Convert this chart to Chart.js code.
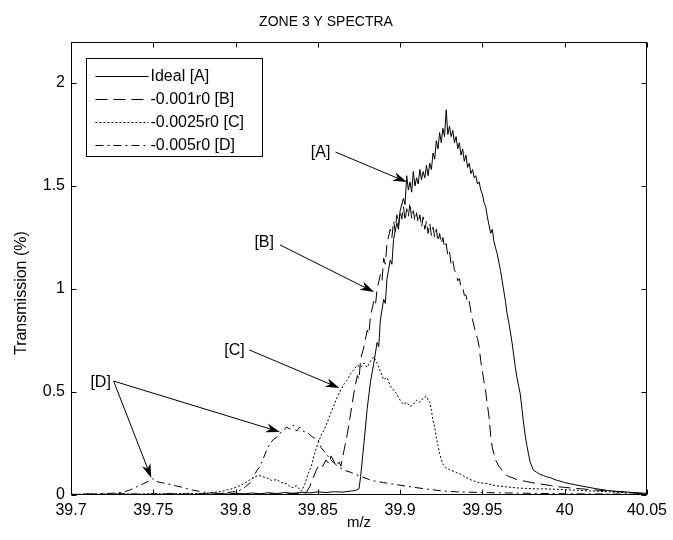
<!DOCTYPE html>
<html lang="en">
<head>
<meta charset="UTF-8">
<title>Zone 3 Y Spectra</title>
<script src="https://cdn.jsdelivr.net/npm/chart.js"></script>
<style>
    body { margin: 0; background: #fff; }
    .wrap { width: 673px; height: 540px; position: relative; }
</style>
</head>
<body>
<div class="wrap"><canvas id="spectra"></canvas></div>
<script>
// axis ticks
const xTicks = [39.7, 39.75, 39.8, 39.85, 39.9, 39.95, 40, 40.05];
const yTicks = [0, 0.5, 1, 1.5, 2];
const seriesLabels = ['Ideal [A]', '-0.001r0 [B]', '-0.0025r0 [C]', '-0.005r0 [D]'];

// [m/z, transmission %]
const idealA = [
    [39.700,0.004],[39.705,0.000],[39.710,0.006],[39.715,0.001],[39.720,0.005],[39.725,0.000],
    [39.730,0.007],[39.735,0.002],[39.740,0.005],[39.745,0.001],[39.750,0.006],[39.755,0.002],
    [39.760,0.008],[39.765,0.003],[39.770,0.006],[39.775,0.002],[39.780,0.007],[39.785,0.003],
    [39.790,0.008],[39.795,0.004],[39.800,0.009],[39.805,0.005],[39.810,0.010],[39.815,0.006],
    [39.820,0.011],[39.825,0.007],[39.830,0.012],[39.835,0.008],[39.840,0.013],[39.845,0.010],
    [39.850,0.015],[39.855,0.012],[39.860,0.016],[39.865,0.014],[39.870,0.019],[39.873,0.022],
    [39.875,0.030],[39.876,0.09],[39.878,0.25],[39.880,0.42],[39.882,0.55],[39.884,0.64],
    [39.886,0.74],[39.887,0.72],[39.888,0.85],[39.890,0.95],[39.891,0.93],[39.892,1.05],
    [39.894,1.14],[39.895,1.12],[39.896,1.24],[39.898,1.32],[39.899,1.29],[39.900,1.38],
    [39.902,1.44],[39.903,1.41],[39.904,1.55],[39.905,1.48],[39.906,1.52],[39.907,1.47],
    [39.908,1.57],[39.909,1.50],[39.910,1.54],[39.911,1.51],[39.912,1.58],[39.913,1.53],
    [39.914,1.57],[39.915,1.54],[39.916,1.60],[39.917,1.55],[39.918,1.61],[39.919,1.58],
    [39.920,1.66],[39.921,1.63],[39.922,1.72],[39.923,1.68],[39.924,1.76],[39.925,1.71],
    [39.926,1.78],[39.927,1.74],[39.928,1.87],[39.929,1.75],[39.930,1.79],[39.931,1.74],
    [39.932,1.77],[39.933,1.71],[39.934,1.74],[39.935,1.68],[39.936,1.71],[39.937,1.65],
    [39.938,1.68],[39.939,1.62],[39.940,1.65],[39.941,1.59],[39.942,1.61],[39.943,1.56],
    [39.944,1.58],[39.945,1.54],[39.946,1.55],[39.947,1.51],[39.948,1.52],[39.949,1.48],
    [39.950,1.46],[39.951,1.42],[39.952,1.40],[39.953,1.35],[39.954,1.31],[39.955,1.27],
    [39.956,1.29],[39.957,1.23],[39.958,1.20],[39.959,1.17],[39.960,1.13],[39.961,1.09],
    [39.962,1.04],[39.963,0.99],[39.964,0.94],[39.965,0.88],[39.966,0.84],[39.967,0.79],
    [39.968,0.74],[39.969,0.68],[39.970,0.62],[39.971,0.57],[39.972,0.53],[39.973,0.49],
    [39.974,0.42],[39.975,0.35],[39.976,0.29],[39.977,0.24],[39.978,0.20],[39.979,0.16],
    [39.980,0.14],[39.981,0.12],[39.983,0.11],[39.985,0.10],[39.987,0.095],[39.989,0.088],
    [39.991,0.085],[39.993,0.078],[39.995,0.072],[39.997,0.068],[40.000,0.060],[40.003,0.055],
    [40.006,0.050],[40.010,0.044],[40.014,0.038],[40.018,0.032],[40.022,0.027],[40.026,0.022],
    [40.030,0.019],[40.035,0.016],[40.040,0.013],[40.045,0.010],[40.050,0.008]
];

const shiftB = [
    [39.700,0.003],[39.710,0.000],[39.720,0.004],[39.730,0.001],[39.740,0.005],[39.750,0.002],
    [39.760,0.004],[39.770,0.001],[39.780,0.005],[39.790,0.002],[39.800,0.006],[39.810,0.003],
    [39.820,0.006],[39.830,0.004],[39.835,0.008],[39.840,0.006],[39.843,0.012],[39.845,0.04],
    [39.847,0.08],[39.849,0.12],[39.851,0.15],[39.853,0.14],[39.855,0.17],[39.857,0.15],
    [39.858,0.19],[39.860,0.16],[39.861,0.14],[39.863,0.16],[39.864,0.14],[39.866,0.22],
    [39.868,0.30],[39.870,0.40],[39.872,0.50],[39.874,0.58],[39.875,0.56],[39.876,0.66],
    [39.878,0.72],[39.880,0.80],[39.881,0.78],[39.882,0.87],[39.884,0.94],[39.885,0.92],
    [39.886,1.00],[39.888,1.07],[39.889,1.04],[39.890,1.15],[39.891,1.12],[39.892,1.22],
    [39.894,1.29],[39.895,1.25],[39.896,1.33],[39.897,1.28],[39.898,1.36],[39.899,1.31],
    [39.900,1.38],[39.901,1.34],[39.902,1.40],[39.903,1.33],[39.904,1.39],[39.905,1.35],
    [39.906,1.42],[39.907,1.34],[39.908,1.38],[39.909,1.33],[39.910,1.37],[39.911,1.32],
    [39.912,1.36],[39.913,1.30],[39.914,1.35],[39.915,1.29],[39.916,1.33],[39.917,1.27],
    [39.918,1.32],[39.919,1.26],[39.920,1.30],[39.921,1.25],[39.922,1.29],[39.923,1.23],
    [39.924,1.27],[39.925,1.22],[39.926,1.25],[39.927,1.20],[39.928,1.22],[39.929,1.16],
    [39.930,1.18],[39.931,1.12],[39.932,1.14],[39.933,1.09],[39.934,1.08],[39.935,1.04],
    [39.936,1.05],[39.937,1.01],[39.938,1.01],[39.939,0.97],[39.940,0.97],[39.941,0.93],
    [39.942,0.94],[39.943,0.89],[39.944,0.85],[39.945,0.82],[39.946,0.78],[39.947,0.76],
    [39.948,0.72],[39.949,0.65],[39.950,0.60],[39.951,0.55],[39.952,0.50],[39.953,0.44],
    [39.954,0.38],[39.955,0.29],[39.956,0.23],[39.957,0.20],[39.958,0.17],[39.960,0.14],
    [39.962,0.12],[39.964,0.10],[39.966,0.09],[39.968,0.085],[39.971,0.075],[39.974,0.07],
    [39.977,0.065],[39.980,0.06],[39.984,0.055],[39.988,0.05],[39.992,0.045],[39.996,0.04],
    [40.000,0.037],[40.005,0.033],[40.010,0.03],[40.016,0.026],[40.022,0.022],[40.028,0.018],
    [40.034,0.015],[40.040,0.012],[40.045,0.009],[40.050,0.007]
];

const shiftC = [
    [39.700,0.002],[39.710,0.005],[39.720,0.002],[39.730,0.006],[39.740,0.003],[39.750,0.007],
    [39.760,0.004],[39.770,0.008],[39.780,0.006],[39.785,0.012],[39.790,0.015],[39.795,0.025],
    [39.798,0.03],[39.801,0.04],[39.804,0.05],[39.806,0.06],[39.808,0.07],[39.810,0.08],
    [39.812,0.09],[39.814,0.095],[39.816,0.09],[39.818,0.085],[39.820,0.08],[39.822,0.07],
    [39.825,0.075],[39.828,0.06],[39.831,0.055],[39.834,0.035],[39.837,0.045],[39.840,0.018],
    [39.842,0.05],[39.844,0.10],[39.846,0.14],[39.848,0.20],[39.850,0.25],[39.852,0.29],
    [39.854,0.32],[39.856,0.36],[39.858,0.40],[39.860,0.44],[39.862,0.48],[39.864,0.51],
    [39.866,0.54],[39.868,0.56],[39.870,0.59],[39.872,0.61],[39.874,0.63],[39.876,0.62],
    [39.878,0.64],[39.880,0.62],[39.882,0.65],[39.884,0.67],[39.886,0.64],[39.888,0.60],
    [39.890,0.56],[39.892,0.57],[39.894,0.53],[39.896,0.51],[39.898,0.49],[39.900,0.46],
    [39.902,0.44],[39.904,0.45],[39.906,0.43],[39.908,0.44],[39.910,0.46],[39.912,0.45],
    [39.914,0.47],[39.916,0.48],[39.917,0.46],[39.918,0.45],[39.919,0.41],[39.920,0.36],
    [39.921,0.33],[39.922,0.28],[39.923,0.24],[39.924,0.20],[39.926,0.15],[39.928,0.13],
    [39.931,0.12],[39.934,0.11],[39.937,0.10],[39.940,0.085],[39.944,0.07],[39.948,0.06],
    [39.953,0.055],[39.958,0.045],[39.964,0.04],[39.970,0.035],[39.976,0.032],[39.982,0.03],
    [39.988,0.03],[39.994,0.028],[40.000,0.026],[40.010,0.022],[40.020,0.018],[40.030,0.014],
    [40.040,0.01],[40.050,0.006]
];

const shiftD = [
    [39.700,0.003],[39.710,0.004],[39.717,0.006],[39.724,0.008],[39.731,0.012],[39.736,0.025],
    [39.740,0.04],[39.744,0.055],[39.748,0.07],[39.750,0.08],[39.752,0.065],[39.755,0.06],
    [39.758,0.055],[39.761,0.05],[39.765,0.042],[39.769,0.035],[39.773,0.025],[39.778,0.018],
    [39.782,0.012],[39.786,0.01],[39.790,0.008],[39.794,0.01],[39.798,0.015],[39.802,0.02],
    [39.806,0.04],[39.809,0.06],[39.811,0.09],[39.813,0.12],[39.815,0.14],[39.817,0.18],
    [39.819,0.22],[39.821,0.25],[39.823,0.27],[39.825,0.28],[39.827,0.30],[39.829,0.31],
    [39.831,0.33],[39.833,0.32],[39.835,0.34],[39.837,0.31],[39.839,0.33],[39.841,0.31],
    [39.844,0.30],[39.847,0.28],[39.850,0.27],[39.852,0.23],[39.855,0.20],[39.858,0.17],
    [39.862,0.14],[39.866,0.12],[39.870,0.11],[39.876,0.09],[39.883,0.07],[39.890,0.06],
    [39.898,0.05],[39.906,0.04],[39.915,0.03],[39.925,0.02],[39.935,0.015],[39.950,0.012],
    [39.965,0.01],[39.980,0.008],[40.000,0.006],[40.020,0.005],[40.050,0.004]
];

// labelled arrows: text position, arrow start, arrow tips (data units)
const callouts = [
    { text: '[A]', at: [39.8517, 1.66], from: [39.8607, 1.665], to: [[39.9041, 1.519]] },
    { text: '[B]', at: [39.8174, 1.223], from: [39.8270, 1.214], to: [[39.8842, 0.985]] },
    { text: '[C]', at: [39.7993, 0.699], from: [39.8084, 0.704], to: [[39.8631, 0.519]] },
    { text: '[D]', at: [39.7180, 0.544], from: [39.7259, 0.553], to: [[39.8270, 0.306], [39.7488, 0.083]] }
];

const FONT = "'Liberation Sans', Arial, sans-serif";
const dashes = [[], [12, 6], [2, 2], [8, 4, 2, 4]];

function arrow(ctx, x1, y1, x2, y2) {
    const ang = Math.atan2(y2 - y1, x2 - x1);
    const len = 14, half = 4.5, notch = 4;
    const c = Math.cos(ang), s = Math.sin(ang);
    const bx = x2 - len * c, by = y2 - len * s;
    ctx.beginPath();
    ctx.moveTo(x1, y1);
    ctx.lineTo(bx + notch * c, by + notch * s);
    ctx.stroke();
    ctx.beginPath();
    ctx.moveTo(x2, y2);
    ctx.lineTo(bx - half * s, by + half * c);
    ctx.lineTo(bx + notch * c, by + notch * s);
    ctx.lineTo(bx + half * s, by - half * c);
    ctx.closePath();
    ctx.fill();
}

const matlabFrame = {
    id: 'matlabFrame',
    afterDatasetsDraw(chart) {
        const { ctx, chartArea: a, scales: { x, y } } = chart;
        ctx.save();
        ctx.strokeStyle = '#000';
        ctx.fillStyle = '#000';
        ctx.lineWidth = 1;
        ctx.setLineDash([]);

        // box + inward ticks
        const L = Math.round(a.left) + 0.5, R = Math.round(a.right) - 0.5;
        const T = Math.round(a.top) + 0.5, B = Math.round(a.bottom) - 0.5;
        ctx.strokeRect(L, T, R - L, B - T);
        ctx.beginPath();
        xTicks.forEach(v => {
            const px = Math.round(x.getPixelForValue(v)) + 0.5;
            ctx.moveTo(px, B); ctx.lineTo(px, B - 5);
            ctx.moveTo(px, T); ctx.lineTo(px, T + 5);
        });
        yTicks.forEach(v => {
            const py = Math.round(y.getPixelForValue(v)) + 0.5;
            ctx.moveTo(L, py); ctx.lineTo(L + 5, py);
            ctx.moveTo(R, py); ctx.lineTo(R - 5, py);
        });
        ctx.stroke();

        // y axis label (sits a little below the axis middle in the original)
        ctx.save();
        ctx.translate(22, y.getPixelForValue(0.98));
        ctx.rotate(-Math.PI / 2);
        ctx.font = '16px ' + FONT;
        ctx.textAlign = 'center';
        ctx.textBaseline = 'middle';
        ctx.fillText('Transmission (%)', 0, 0);
        ctx.restore();

        // legend box
        const lx = L + 15, ly = T + 16, lw = 176, lh = 98;
        ctx.fillStyle = '#fff';
        ctx.fillRect(lx, ly, lw, lh);
        ctx.strokeRect(lx, ly, lw, lh);
        ctx.fillStyle = '#000';
        ctx.font = '16px ' + FONT;
        ctx.textBaseline = 'middle';
        ctx.textAlign = 'left';
        seriesLabels.forEach((lab, i) => {
            const ey = Math.round(ly + 17 + i * 23) + 0.5;
            ctx.setLineDash(dashes[i]);
            ctx.beginPath();
            ctx.moveTo(lx + 9, ey);
            ctx.lineTo(lx + 62, ey);
            ctx.stroke();
            ctx.setLineDash([]);
            ctx.fillText(lab, lx + 64, ey);
        });

        // callouts
        ctx.textAlign = 'center';
        callouts.forEach(c => {
            ctx.fillText(c.text, x.getPixelForValue(c.at[0]), y.getPixelForValue(c.at[1]));
            const sx = x.getPixelForValue(c.from[0]), sy = y.getPixelForValue(c.from[1]);
            c.to.forEach(t => arrow(ctx, sx, sy, x.getPixelForValue(t[0]), y.getPixelForValue(t[1])));
        });
        ctx.restore();
    }
};

const series = [idealA, shiftB, shiftC, shiftD];

new Chart(document.getElementById('spectra'), {
    type: 'line',
    data: {
        datasets: series.map((s, i) => ({
            label: seriesLabels[i],
            data: s.map(p => ({ x: p[0], y: p[1] })),
            borderColor: '#000',
            borderWidth: 1,
            borderDash: dashes[i],
            pointRadius: 0,
            tension: 0,
            fill: false
        }))
    },
    options: {
        responsive: true,
        maintainAspectRatio: false,
        animation: false,
        layout: { padding: { top: 0, right: 21, left: 0, bottom: 0 } },
        plugins: {
            legend: { display: false },
            tooltip: { enabled: false },
            title: {
                display: true,
                text: 'ZONE 3 Y SPECTRA',
                color: '#000',
                font: { family: FONT, size: 14, weight: 'normal', lineHeight: 1.2 },
                padding: { top: 14, bottom: 11 }
            }
        },
        scales: {
            x: {
                type: 'linear',
                min: 39.7,
                max: 40.05,
                grid: { display: false, drawTicks: false },
                border: { display: false },
                afterBuildTicks: s => { s.ticks = xTicks.map(v => ({ value: v })); },
                afterFit: s => { s.height = 45; },
                ticks: {
                    color: '#000',
                    font: { family: FONT, size: 16 },
                    padding: 6,
                    maxRotation: 0,
                    autoSkip: false,
                    callback: v => String(v)
                },
                title: {
                    display: true,
                    text: 'm/z',
                    color: '#000',
                    font: { family: FONT, size: 15 },
                    padding: { top: 0, bottom: 8 }
                }
            },
            y: {
                min: 0,
                max: 2.2,
                grid: { display: false, drawTicks: false },
                border: { display: false },
                afterBuildTicks: s => { s.ticks = yTicks.map(v => ({ value: v })); },
                afterFit: s => { s.width = 71; },
                ticks: {
                    color: '#000',
                    font: { family: FONT, size: 16 },
                    padding: 6,
                    callback: v => String(v)
                }
            }
        }
    },
    plugins: [matlabFrame]
});
</script>
</body>
</html>
